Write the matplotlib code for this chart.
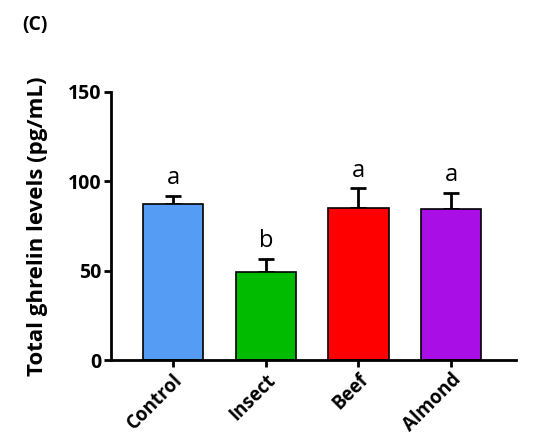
import matplotlib.pyplot as plt
import matplotlib.transforms as mtransforms
import numpy as np

# group means and SEM
groups = ['Control', 'Insect', 'Beef', 'Almond']
means = [87.5, 49.3, 84.8, 84.3]
sems = [4.5, 7.3, 11.3, 9.2]
letters = ['a', 'b', 'a', 'a']
colors = ['#559CF4', '#00BB00', '#FF0000', '#A90EE6']

plt.rcParams['font.family'] = ['Open Sans', 'DejaVu Sans']

fig = plt.figure(figsize=(5.5, 4.48), dpi=100)
ax = fig.add_axes([0.202, 0.196, 0.736, 0.599])

x = np.arange(len(groups))
ax.bar(x, means, width=0.65, color=colors, edgecolor='black', linewidth=1.2, zorder=2)
ax.errorbar(x, means, yerr=[np.zeros(len(sems)), sems], fmt='none', ecolor='black',
            elinewidth=2, capsize=6, capthick=2, zorder=1)

for xi, m, s, l in zip(x, means, sems, letters):
    ax.text(xi, m + s + 6.5, l, ha='center', va='baseline', fontsize=17)

ax.set_xlim(-0.67, 3.70)
ax.set_ylim(0, 150)
ax.set_yticks([0, 50, 100, 150])
ax.set_xticks(x)
ax.set_xticklabels(groups, rotation=45, ha='right', rotation_mode='anchor',
                   fontsize=13.5, fontweight='bold')
shift = mtransforms.ScaledTranslation(6 / 72, 0, fig.dpi_scale_trans)
for t in ax.get_xticklabels():
    t.set_transform(t.get_transform() + shift)
for t in ax.get_yticklabels():
    t.set_fontweight('bold')
    t.set_fontsize(14)

ax.set_ylabel('Total ghrelin levels (pg/mL)', fontsize=16, fontweight='bold')
ax.yaxis.set_label_coords(-0.155, 0.5)

ax.spines['top'].set_visible(False)
ax.spines['right'].set_visible(False)
ax.spines['left'].set_linewidth(2)
ax.spines['bottom'].set_linewidth(2)
ax.tick_params(width=2, length=5, pad=2)

fig.text(0.04, 0.944, '(C)', fontsize=14, fontweight='bold', va='center')

fig.savefig('out.png', dpi=100)
